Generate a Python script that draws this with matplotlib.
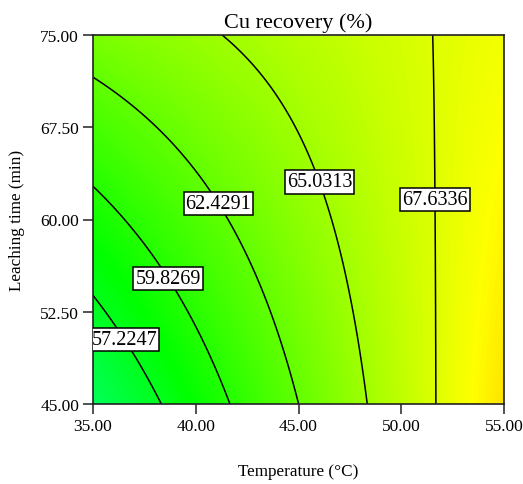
import numpy as np
import matplotlib
matplotlib.use('Agg')
import matplotlib.pyplot as plt
from matplotlib.colors import LinearSegmentedColormap

plt.rcParams['font.family'] = ['Liberation Serif', 'DejaVu Serif']

# fitted model in coded units: Y = b0 + bA*A + bB*B + bAB*A*B
# A = (T - 45)/10, B = (t - 60)/15
coef = [64.20, 5.165, 1.775, -2.625]
temp_range = [35.0, 55.0]
time_range = [45.0, 75.0]
levels = [57.2247, 59.8269, 62.4291, 65.0313, 67.6336]
label_pos = [(36.7, 50.4), (38.9, 55.5), (41.3, 61.5), (46.1, 63.1), (51.6, 61.6)]
xticks = [35.0, 40.0, 45.0, 50.0, 55.0]
yticks = [45.0, 52.5, 60.0, 67.5, 75.0]
# response range that the colour scale covers (blue -> red)
color_range = [36.92, 79.78]

T = np.linspace(temp_range[0], temp_range[1], 400)
t = np.linspace(time_range[0], time_range[1], 400)
TT, tt = np.meshgrid(T, t)
A = (TT - 45.0) / 10.0
B = (tt - 60.0) / 15.0
Y = coef[0] + coef[1] * A + coef[2] * B + coef[3] * A * B

cmap = LinearSegmentedColormap.from_list(
    'de_rainbow', ['#0000ff', '#00ffff', '#00ff00', '#ffff00', '#ff0000'])

fig = plt.figure(figsize=(5.23, 4.85), dpi=100)
ax = fig.add_axes([93 / 523, 80 / 485, 411 / 523, 369 / 485])

ax.imshow(Y, origin='lower', extent=[T[0], T[-1], t[0], t[-1]], aspect='auto',
          cmap=cmap, vmin=color_range[0], vmax=color_range[1],
          interpolation='bilinear')
cs = ax.contour(TT, tt, Y, levels=levels, colors='k', linewidths=1.1)
labels = ax.clabel(cs, fmt='%.4f', manual=label_pos, inline=False, fontsize=14.5)
for lb in labels:
    lb.set_rotation(0)
    lb.set_bbox(dict(boxstyle='square,pad=0.1', fc='white', ec='black', lw=1.1))

ax.set_xlim(temp_range)
ax.set_ylim(time_range)
ax.set_xticks(xticks)
ax.set_yticks(yticks)
ax.set_xticklabels(['%.2f' % v for v in xticks])
ax.set_yticklabels(['%.2f' % v for v in yticks])
ax.tick_params(direction='out', length=7, width=1.2, color='#333333',
               labelsize=12.5, pad=3)
for sp in ax.spines.values():
    sp.set_color('#222222')
    sp.set_linewidth(1.2)

ax.set_title('Cu recovery (%)', fontsize=16, pad=6)
ax.set_xlabel('Temperature (\u00b0C)', fontsize=12.3, va='center')
ax.set_ylabel('Leaching time (min)', fontsize=12.3, va='center')
ax.xaxis.set_label_coords(0.5, -0.182)
ax.yaxis.set_label_coords(-0.185, 0.5)

fig.savefig('out.png', dpi=100)
